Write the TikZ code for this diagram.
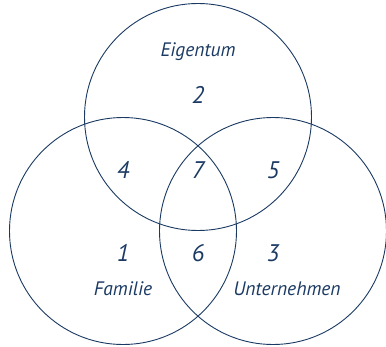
\documentclass[tikz,border=0pt]{standalone}
\usepackage{fontspec}
\setmainfont{PT Sans}
\usepackage{xcolor}
\usepackage{tikz}
\definecolor{navy}{HTML}{1B3A63}

\begin{document}
\begin{tikzpicture}[x=1pt, y=-1pt, line width=0.9pt,
    lbl/.style={text=navy, font=\itshape\fontsize{19.5}{19.5}\selectfont},
    num/.style={text=navy, font=\itshape\fontsize{24}{24}\selectfont}]
    \useasboundingbox (0,0) rectangle (386,346);
    % 1. Ba vòng tròn
    \draw[navy] (198,117) circle (113.5);
    \draw[navy] (123,231) circle (113.5);
    \draw[navy] (273,231) circle (113.5);

    % 2. Tên các vòng
    \node[lbl] (eig) at (198,52) {Eigentum};
    \node[lbl] (fam) at (123,289) {Familie};
    \node[lbl] (unt) at (287,289) {Unternehmen};

    % 3. Đánh số các vùng
    \node[num] (n2) at (198,95) {2};
    \node[num] (n4) at (123,170) {4};
    \node[num] (n7) at (198,170) {7};
    \node[num] (n5) at (273,170) {5};
    \node[num] (n1) at (123,253) {1};
    \node[num] (n6) at (198,253) {6};
    \node[num] (n3) at (273,253) {3};
\end{tikzpicture}
\end{document}
